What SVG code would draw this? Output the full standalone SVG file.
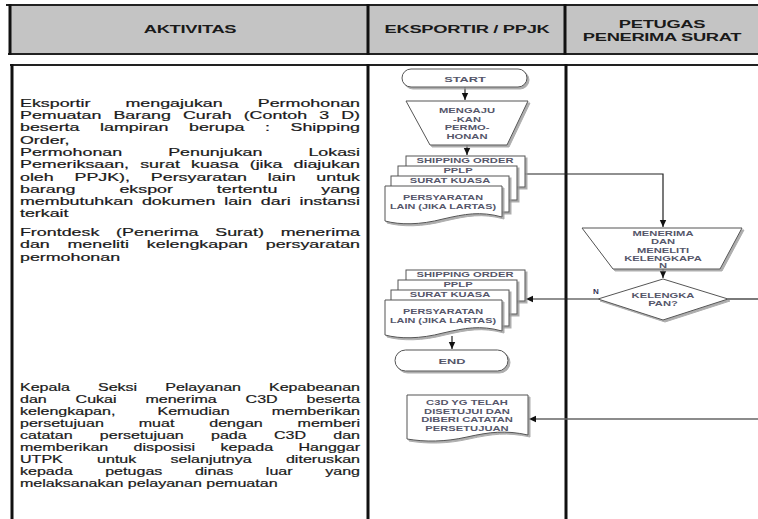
<svg xmlns="http://www.w3.org/2000/svg" width="758" height="519" viewBox="0 0 758 519">
<style>
.hdr{font-family:"Liberation Sans",Arial,sans-serif;font-weight:bold;font-size:10.5px;fill:#1a1a1a;text-anchor:middle;letter-spacing:-0.2px}
.p1{font-family:"Liberation Sans",Arial,sans-serif;font-size:10.5px;fill:#1a1a1a;stroke:#1a1a1a;stroke-width:0.2}
.p3{font-family:"Liberation Sans",Arial,sans-serif;font-size:10.7px;fill:#1a1a1a;stroke:#1a1a1a;stroke-width:0.2}
.s{font-family:"Liberation Sans",Arial,sans-serif;font-weight:bold;font-size:7px;fill:#55566a;text-anchor:middle}
.t{font-family:"Liberation Sans",Arial,sans-serif;font-weight:bold;font-size:8px;fill:#55566a;text-anchor:middle}
.shape{fill:#fff;stroke:#555;stroke-width:1;filter:url(#sh)}
.lane{stroke:#111;stroke-width:3;fill:none}
.hl{stroke:#222;stroke-width:2;fill:none}
.con{stroke:#222;stroke-width:1.2;fill:none}
</style>
<defs>
<filter id="sh" x="-10%" y="-10%" width="125%" height="130%">
<feDropShadow dx="2" dy="2" stdDeviation="0.6" flood-color="#999" flood-opacity="0.8"/>
</filter>
<marker id="ar" markerWidth="8" markerHeight="8" refX="7" refY="4" orient="auto" markerUnits="userSpaceOnUse">
<path d="M0,0.8 L7,4 L0,7.2 Z" fill="#111"/>
</marker>
</defs>
<rect width="758" height="519" fill="#fff"/>

<g id="header">
<rect x="10" y="5" width="748" height="49" fill="#c4c4c4"/>
<line class="hl" x1="6" y1="5" x2="758" y2="5"/>
<line class="hl" x1="8" y1="54" x2="758" y2="54"/>
<line class="lane" x1="10" y1="4" x2="10" y2="55"/>
<line class="lane" x1="368" y1="4" x2="368" y2="55"/>
<line class="lane" x1="565" y1="4" x2="565" y2="55"/>
<text class="hdr" transform="translate(190,33) scale(1.75,1)">AKTIVITAS</text>
<text class="hdr" transform="translate(467,33) scale(1.75,1)">EKSPORTIR / PPJK</text>
<text class="hdr" transform="translate(662,28) scale(1.75,1)">PETUGAS</text>
<text class="hdr" transform="translate(662,41) scale(1.75,1)">PENERIMA SURAT</text>
</g>

<g id="lanes">
<line class="hl" x1="10" y1="65" x2="758" y2="65"/>
<line class="lane" x1="12" y1="64" x2="12" y2="519"/>
<line class="lane" x1="368" y1="64" x2="368" y2="519"/>
<line class="lane" x1="566" y1="64" x2="566" y2="519"/>
</g>

<g id="aktivitas-eksportir" transform="scale(1.7,1)">
<text class="p1" x="11.76" y="106.8" textLength="200" lengthAdjust="spacing" style="word-spacing:17.72px">Eksportir mengajukan Permohonan</text>
<text class="p1" x="11.76" y="119.1" textLength="200" lengthAdjust="spacing" style="word-spacing:4.17px">Pemuatan Barang Curah (Contoh 3 D)</text>
<text class="p1" x="11.76" y="131.4" textLength="200" lengthAdjust="spacing" style="word-spacing:9.15px">beserta lampiran berupa : Shipping</text>
<text class="p1" x="11.76" y="143.7">Order,</text>
<text class="p1" x="11.76" y="156" textLength="200" lengthAdjust="spacing" style="word-spacing:24.13px">Permohonan Penunjukan Lokasi</text>
<text class="p1" x="11.76" y="168.3" textLength="200" lengthAdjust="spacing" style="word-spacing:3.61px">Pemeriksaan, surat kuasa (jika diajukan</text>
<text class="p1" x="11.76" y="180.6" textLength="200" lengthAdjust="spacing" style="word-spacing:9.29px">oleh PPJK), Persyaratan lain untuk</text>
<text class="p1" x="11.76" y="192.9" textLength="200" lengthAdjust="spacing" style="word-spacing:22.89px">barang ekspor tertentu yang</text>
<text class="p1" x="11.76" y="205.2" textLength="200" lengthAdjust="spacing" style="word-spacing:2.29px">membutuhkan dokumen lain dari instansi</text>
<text class="p1" x="11.76" y="217.5">terkait</text>
</g>

<g id="aktivitas-frontdesk" transform="scale(1.7,1)">
<text class="p1" x="11.76" y="236" textLength="200" lengthAdjust="spacing" style="word-spacing:6.96px">Frontdesk (Penerima Surat) menerima</text>
<text class="p1" x="11.76" y="248.3" textLength="200" lengthAdjust="spacing" style="word-spacing:7.53px">dan meneliti kelengkapan persyaratan</text>
<text class="p1" x="11.76" y="260.6">permohonan</text>
</g>

<g id="aktivitas-kepala-seksi" transform="scale(1.5,1)">
<text class="p3" x="13.33" y="391" textLength="226.67" lengthAdjust="spacing" style="word-spacing:15.68px">Kepala Seksi Pelayanan Kepabeanan</text>
<text class="p3" x="13.33" y="403" textLength="226.67" lengthAdjust="spacing" style="word-spacing:16.23px">dan Cukai menerima C3D beserta</text>
<text class="p3" x="13.33" y="415" textLength="226.67" lengthAdjust="spacing" style="word-spacing:25.02px">kelengkapan, Kemudian memberikan</text>
<text class="p3" x="13.33" y="427" textLength="226.67" lengthAdjust="spacing" style="word-spacing:20.25px">persetujuan muat dengan memberi</text>
<text class="p3" x="13.33" y="439" textLength="226.67" lengthAdjust="spacing" style="word-spacing:15.18px">catatan persetujuan pada C3D dan</text>
<text class="p3" x="13.33" y="451" textLength="226.67" lengthAdjust="spacing" style="word-spacing:13.91px">memberikan disposisi kepada Hanggar</text>
<text class="p3" x="13.33" y="463" textLength="226.67" lengthAdjust="spacing" style="word-spacing:19.85px">UTPK untuk selanjutnya diteruskan</text>
<text class="p3" x="13.33" y="475" textLength="226.67" lengthAdjust="spacing" style="word-spacing:18.75px">kepada petugas dinas luar yang</text>
<text class="p3" x="13.33" y="487">melaksanakan pelayanan pemuatan</text>
</g>

<g id="connectors">
<line class="con" x1="465" y1="87" x2="465" y2="100" marker-end="url(#ar)"/>
<line class="con" x1="467" y1="145" x2="467" y2="155" marker-end="url(#ar)"/>
<polyline class="con" points="525,174 663,174 663,227" marker-end="url(#ar)"/>
<line class="con" x1="663" y1="269" x2="663" y2="278" marker-end="url(#ar)"/>
<line class="con" x1="598" y1="299" x2="526" y2="299" marker-end="url(#ar)"/>
<line class="con" x1="728" y1="299" x2="758" y2="299"/>
<line class="con" x1="452" y1="336" x2="452" y2="349" marker-end="url(#ar)"/>
<line x1="758" y1="419" x2="529" y2="419" stroke="#666" stroke-width="1.4" marker-end="url(#ar)"/>
</g>

<g id="start">
<rect class="shape" x="402" y="69" width="125" height="18" rx="9"/>
<text class="t" transform="translate(465,81.5) scale(1.6,1)">START</text>
</g>

<g id="mengajukan">
<polygon class="shape" points="406,101 528,101 507,145 430,145"/>
<text class="s" transform="translate(467,113) scale(1.6,1)">MENGAJU</text>
<text class="s" transform="translate(467,121.5) scale(1.6,1)">-KAN</text>
<text class="s" transform="translate(467,130) scale(1.6,1)">PERMO-</text>
<text class="s" transform="translate(467,138.5) scale(1.6,1)">HONAN</text>
</g>

<g id="dokumen-permohonan">
<rect class="shape" x="406" y="156" width="119" height="31"/>
<text class="s" transform="translate(465,163) scale(1.6,1)">SHIPPING ORDER</text>
<rect class="shape" x="398" y="166" width="119" height="34"/>
<text class="s" transform="translate(458,173) scale(1.6,1)">PPLP</text>
<rect class="shape" x="391" y="176" width="118" height="36"/>
<text class="s" transform="translate(450,183) scale(1.6,1)">SURAT KUASA</text>
<path class="shape" d="M385,186 H502 V217 C480,211 465,214 443,219 C420,225 400,225 385,221 Z"/>
<text class="s" transform="translate(443,200) scale(1.55,1)">PERSYARATAN</text>
<text class="s" transform="translate(443,209) scale(1.55,1)">LAIN (JIKA LARTAS)</text>
</g>

<g id="menerima">
<polygon class="shape" points="582,228 742,228 720,269 613,269"/>
<text class="s" transform="translate(663,235.5) scale(1.6,1)">MENERIMA</text>
<text class="s" transform="translate(663,244) scale(1.6,1)">DAN</text>
<text class="s" transform="translate(663,252.5) scale(1.6,1)">MENELITI</text>
<text class="s" transform="translate(663,261) scale(1.6,1)">KELENGKAPA</text>
<text class="s" transform="translate(663,268) scale(1.6,1)">N</text>
</g>

<g id="kelengkapan">
<polygon class="shape" points="663,279 728,299 663,320 598,299"/>
<text class="s" transform="translate(663,298) scale(1.6,1)">KELENGKA</text>
<text class="s" transform="translate(663,306) scale(1.6,1)">PAN?</text>
<text class="s" x="596" y="294" style="fill:#333355;font-size:8px">N</text>
</g>

<g id="dokumen-kembali">
<rect class="shape" x="406" y="270" width="119" height="31"/>
<text class="s" transform="translate(465,277) scale(1.6,1)">SHIPPING ORDER</text>
<rect class="shape" x="398" y="280" width="119" height="34"/>
<text class="s" transform="translate(458,287) scale(1.6,1)">PPLP</text>
<rect class="shape" x="391" y="290" width="118" height="36"/>
<text class="s" transform="translate(450,297) scale(1.6,1)">SURAT KUASA</text>
<path class="shape" d="M385,300 H502 V331 C480,325 465,328 443,333 C420,339 400,339 385,335 Z"/>
<text class="s" transform="translate(443,314) scale(1.55,1)">PERSYARATAN</text>
<text class="s" transform="translate(443,323) scale(1.55,1)">LAIN (JIKA LARTAS)</text>
</g>

<g id="end">
<rect class="shape" x="395" y="350" width="113" height="21" rx="10.5"/>
<text class="t" transform="translate(452,364) scale(1.6,1)">END</text>
</g>

<g id="c3d">
<path class="shape" d="M407,395 H528 V435 C505,430 490,432 467,437 C445,442 425,442 407,439 Z"/>
<text class="s" transform="translate(467,405) scale(1.6,1)">C3D YG TELAH</text>
<text class="s" transform="translate(467,413.5) scale(1.6,1)">DISETUJUI DAN</text>
<text class="s" transform="translate(467,422) scale(1.6,1)">DIBERI CATATAN</text>
<text class="s" transform="translate(467,430.5) scale(1.6,1)">PERSETUJUAN</text>
</g>
</svg>
